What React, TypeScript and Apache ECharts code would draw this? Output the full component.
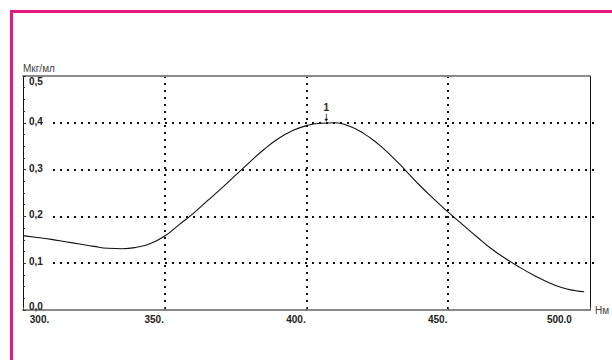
import { useEffect, useRef } from 'react';
import * as echarts from 'echarts';

const wavelengths = [
  300, 305, 310, 315, 320, 325, 330, 335, 340, 345, 350, 355, 360, 365, 370, 375, 380, 385, 390, 395,
  400, 405, 410, 415, 420, 425, 430, 435, 440, 445, 450, 455, 460, 465, 470, 475, 480, 485, 490, 495, 498,
];
const concentrations = [
  0.159, 0.155, 0.151, 0.146, 0.141, 0.136, 0.132, 0.131, 0.134, 0.142, 0.158, 0.182, 0.206, 0.233, 0.26,
  0.288, 0.316, 0.343, 0.366, 0.383, 0.394, 0.399, 0.4, 0.393, 0.378, 0.356, 0.329, 0.298, 0.266, 0.237,
  0.209, 0.183, 0.157, 0.132, 0.111, 0.092, 0.075, 0.06, 0.048, 0.041, 0.039,
];
const xTickValues = [300, 350, 400, 450, 500];
const xTickLabels = ['300.', '350.', '400.', '450.', '500.0'];
const yTickValues = [0, 0.1, 0.2, 0.3, 0.4, 0.5];
const yTickLabels = ['0,0', '0,1', '0,2', '0,3', '0,4', '0,5'];
const peakWavelengths = [407];
const peakValues = [0.4];
const peakLabels = ['1'];
const yAxisTitle = 'Мкг/мл';
const xAxisTitle = 'Нм';

const findIndex = (arr: number[], v: number) => arr.findIndex((t) => Math.abs(t - v) < 1e-6);

export default function App() {
  const ref = useRef<HTMLDivElement>(null);
  useEffect(() => {
    const chart = echarts.init(ref.current!, null, { renderer: 'svg' });
    const font = "'Liberation Sans', Arial, Helvetica, sans-serif";
    const labelFont = { fontSize: 10, fontWeight: 'bold', fontFamily: font, color: '#222' };
    const dotted = { color: '#111', width: 2, type: [2, 5] };
    const lineData = wavelengths.map((w, i) => [w, concentrations[i]]);

    chart.setOption({
      animation: false,
      backgroundColor: '#fff',
      grid: [
        { left: 23, right: 18, top: 76, bottom: 50 },
        { left: 53, right: 18, top: 76, bottom: 50 },
      ],
      xAxis: [
        {
          gridIndex: 0,
          type: 'value',
          min: 300,
          max: 500,
          interval: 50,
          position: 'bottom',
          z: 3,
          axisLine: { show: true, onZero: false, lineStyle: { color: '#8a8a8a', width: 2 } },
          axisTick: { show: true, inside: true, length: 3, lineStyle: { color: '#555' } },
          axisLabel: {
            show: true,
            margin: 4,
            ...labelFont,
            formatter: (v: number) => {
              const i = findIndex(xTickValues, v);
              if (i < 0) return '';
              const key = i === 0 ? 'first' : i === xTickValues.length - 1 ? 'last' : 'mid';
              return `{${key}|${xTickLabels[i]}}`;
            },
            rich: {
              first: { ...labelFont, padding: [0, 0, 0, 33] },
              mid: { ...labelFont, padding: [0, 21, 0, 0] },
              last: { ...labelFont, padding: [0, 61, 0, 0] },
            },
          },
          splitLine: { show: true, showMinLine: false, showMaxLine: false, lineStyle: dotted },
          name: xAxisTitle,
          nameLocation: 'end',
          nameGap: 5,
          nameTextStyle: { fontSize: 10, fontFamily: font, color: '#444', padding: [0, 0, 6, 0] },
        },
        {
          gridIndex: 0,
          type: 'value',
          min: 300,
          max: 500,
          position: 'top',
          z: 3,
          axisLine: { show: true, onZero: false, lineStyle: { color: '#8a8a8a', width: 2 } },
          axisTick: { show: false },
          axisLabel: { show: false },
          splitLine: { show: false },
        },
        {
          gridIndex: 1,
          type: 'value',
          min: 300,
          max: 500,
          show: false,
        },
      ],
      yAxis: [
        {
          gridIndex: 0,
          type: 'value',
          min: 0,
          max: 0.5,
          interval: 0.1,
          position: 'left',
          z: 3,
          axisLine: { show: true, onZero: false, lineStyle: { color: '#111', width: 1 } },
          axisTick: { show: true, inside: true, length: 3, lineStyle: { color: '#333' } },
          minorTick: { show: true, splitNumber: 4, length: 2, lineStyle: { color: '#333' } },
          axisLabel: {
            show: true,
            inside: true,
            margin: 6,
            ...labelFont,
            formatter: (v: number) => {
              const i = findIndex(yTickValues, v);
              if (i < 0) return '';
              const key = i === 0 ? 'bot' : i === yTickValues.length - 1 ? 'top' : 'mid';
              return `{${key}|${yTickLabels[i]}}`;
            },
            rich: {
              bot: { ...labelFont, padding: [0, 0, 8, 0] },
              mid: { ...labelFont, padding: [0, 0, 3, 0] },
              top: { ...labelFont, padding: [10, 0, 0, 0] },
            },
          },
          splitLine: { show: false },
          name: yAxisTitle,
          nameLocation: 'end',
          nameGap: 8,
          nameTextStyle: { fontSize: 10, fontFamily: font, color: '#444', align: 'left', verticalAlign: 'middle' },
        },
        {
          gridIndex: 0,
          type: 'value',
          min: 0,
          max: 0.5,
          position: 'right',
          z: 3,
          axisLine: { show: true, onZero: false, lineStyle: { color: '#111', width: 1 } },
          axisTick: { show: false },
          axisLabel: { show: false },
          splitLine: { show: false },
        },
        {
          gridIndex: 1,
          type: 'value',
          min: 0,
          max: 0.5,
          interval: 0.1,
          z: 1,
          axisLine: { show: false },
          axisTick: { show: false },
          axisLabel: { show: false },
          splitLine: { show: true, showMinLine: false, showMaxLine: false, lineStyle: dotted },
        },
      ],
      graphic: [
        { type: 'rect', silent: true, shape: { x: 10, y: 10, width: 3, height: 350 }, style: { fill: '#e4197d' } },
        { type: 'rect', silent: true, shape: { x: 10, y: 10, width: 602, height: 3 }, style: { fill: '#e4197d' } },
      ],
      series: [
        {
          type: 'line',
          xAxisIndex: 0,
          yAxisIndex: 0,
          data: lineData,
          showSymbol: false,
          smooth: 0.5,
          z: 2,
          lineStyle: { color: '#111', width: 1.1 },
          markPoint: {
            silent: true,
            symbol: 'path://M1.6,0 L2.4,0 L2.4,5 L4,5 L2,8 L0,5 L1.6,5 Z',
            symbolSize: [4, 8],
            symbolOffset: [0, -5],
            itemStyle: { color: '#222' },
            label: {
              show: true,
              position: 'top',
              distance: 1,
              fontSize: 10,
              fontWeight: 'bold',
              fontFamily: font,
              color: '#222',
              formatter: (p: any) => p.name,
            },
            data: peakWavelengths.map((w, i) => ({ name: peakLabels[i], coord: [w, peakValues[i]] })),
          },
        },
      ],
    });
    return () => chart.dispose();
  }, []);

  return (
    <div
      ref={ref}
      style={{ position: 'fixed', left: 0, top: 0, width: 612, height: 360, background: '#fff' }}
    />
  );
}
